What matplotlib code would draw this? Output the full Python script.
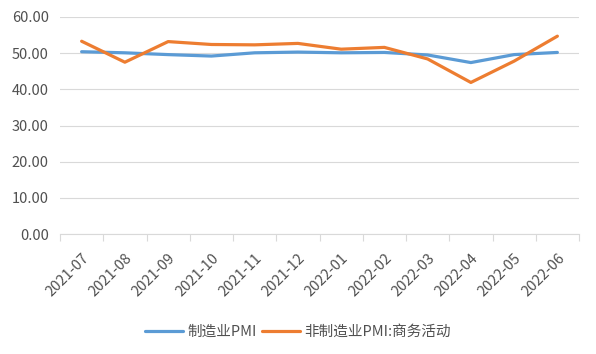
import matplotlib.pyplot as plt
import numpy as np

plt.rcParams['font.family'] = ['Noto Sans CJK SC', 'DejaVu Sans']

months = ['2021-07', '2021-08', '2021-09', '2021-10', '2021-11', '2021-12',
          '2022-01', '2022-02', '2022-03', '2022-04', '2022-05', '2022-06']
mfg_pmi = [50.4, 50.1, 49.6, 49.2, 50.1, 50.3, 50.1, 50.2, 49.5, 47.4, 49.6, 50.2]
non_mfg_business = [53.3, 47.5, 53.2, 52.4, 52.3, 52.7, 51.1, 51.6, 48.4, 41.9, 47.8, 54.7]

text_color = '#505050'
grid_color = '#d9d9d9'

fig = plt.figure(figsize=(5.96, 3.54), dpi=100)
ax = fig.add_axes([60 / 596, 120 / 354, 519 / 596, 217 / 354])

x = np.arange(len(months))
ax.plot(x, mfg_pmi, color='#5B9BD5', lw=2.3, label='制造业PMI', solid_capstyle='round')
ax.plot(x, non_mfg_business, color='#ED7D31', lw=2.3, label='非制造业PMI:商务活动', solid_capstyle='round')

ax.set_xlim(-0.5, len(months) - 0.5)
ax.set_ylim(0, 60)
ax.set_yticks(np.arange(0, 61, 10))
ax.set_yticklabels([f'{v:.2f}' for v in range(0, 61, 10)])
ax.yaxis.grid(True, color=grid_color, lw=0.8)
ax.set_axisbelow(True)

# category boundaries get the tick marks, labels sit at category centres
ax.set_xticks(np.arange(-0.5, len(months), 1.0))
ax.set_xticklabels([])
ax.set_xticks(x, minor=True)
ax.set_xticklabels(months, minor=True, rotation=45, ha='right', rotation_mode='anchor')
ax.tick_params(axis='x', which='major', length=5, color=grid_color, direction='out')
ax.tick_params(axis='x', which='minor', length=0, pad=12, labelsize=10.5, labelcolor=text_color)
ax.tick_params(axis='y', length=0, labelsize=10.5, labelcolor=text_color, pad=8)

for s in ['top', 'right', 'left']:
    ax.spines[s].set_visible(False)
ax.spines['bottom'].set_color(grid_color)

fig.legend(loc='center', bbox_to_anchor=(0.5, 22 / 354), ncol=2, frameon=False,
           fontsize=10.5, labelcolor=text_color, handlelength=2.6, handletextpad=0.3,
           columnspacing=0.4)

fig.savefig('out.png', dpi=100)
